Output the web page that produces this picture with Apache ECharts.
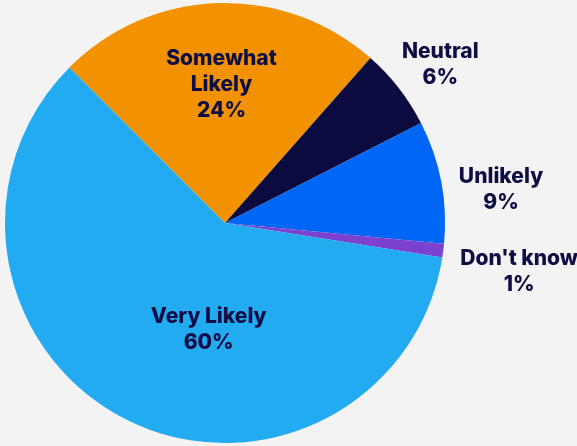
<!DOCTYPE html>
<html>
<head>
<meta charset="utf-8">
<style>
html,body{margin:0;padding:0;background:#f3f3f3;}
#chart{width:577px;height:446px;}
</style>
<script src="https://cdn.jsdelivr.net/npm/echarts@6/dist/echarts.min.js"></script>
</head>
<body>
<div id="chart"></div>
<script>
var categories = ['Somewhat\nLikely', 'Neutral', 'Unlikely', "Don't know", 'Very Likely'];
var values = [24, 6, 9, 1, 60];
var colors = ['#f39200', '#0b0b40', '#0066f5', '#7b42d0', '#23abf2'];
var labelOffsets = [[0, -25], [126, -89], [165, -12], [182, 35], [35, 6]];

var chart = echarts.init(document.getElementById('chart'));
chart.setOption({
  backgroundColor: '#f3f3f3',
  animation: false,
  series: [{
    type: 'pie',
    center: [225, 223],
    radius: [0, 220],
    startAngle: 135,
    clockwise: true,
    avoidLabelOverlap: false,
    labelLine: {show: false},
    label: {
      show: true,
      position: 'inside',
      fontFamily: 'Inter',
      fontWeight: 800,
      fontSize: 21,
      lineHeight: 26,
      color: '#0e0e45',
      align: 'center',
      formatter: function (p) { return p.name + '\n' + p.value + '%'; }
    },
    data: categories.map(function (c, i) {
      return {
        name: c,
        value: values[i],
        itemStyle: {color: colors[i]},
        label: {offset: labelOffsets[i]}
      };
    })
  }]
});
</script>
</body>
</html>
